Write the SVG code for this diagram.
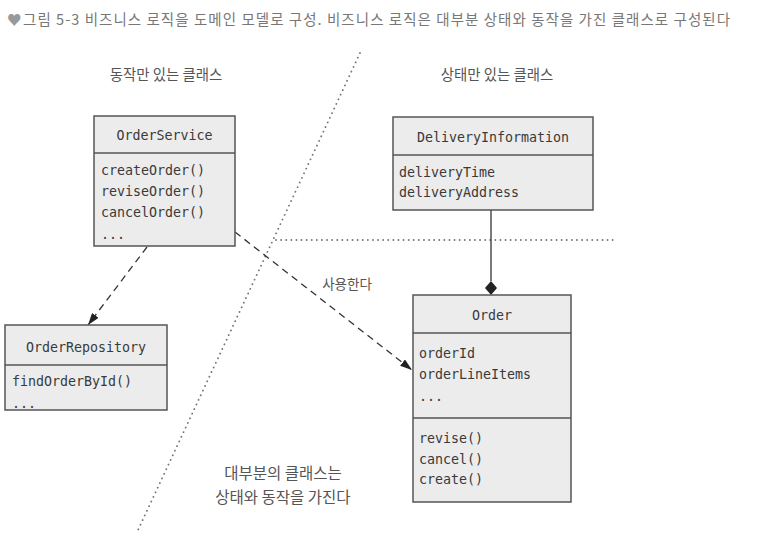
<svg xmlns="http://www.w3.org/2000/svg" width="784" height="551" viewBox="0 0 784 551">
<style>
.box{fill:#ececec;stroke:#555;stroke-width:1.5}
.div{stroke:#555;stroke-width:1.5}
.mono{font-family:"DejaVu Sans Mono","Liberation Mono",monospace;font-size:13.3px;fill:#3a3a3a}
.kr{font-family:"Noto Sans CJK KR","Noto Sans",sans-serif;font-size:14.4px;fill:#555}
.cap{font-family:"Noto Sans CJK KR","Noto Sans",sans-serif;font-size:14.5px;fill:#777}
.dot{stroke:#777;stroke-width:1.8;stroke-linecap:round;stroke-dasharray:0.1 5;fill:none}
.dash{stroke:#333;stroke-width:1.3;stroke-dasharray:7 5;fill:none}
</style>
<defs>
<marker id="arr" viewBox="0 0 12 8" refX="12" refY="4" markerWidth="12" markerHeight="8" markerUnits="userSpaceOnUse" orient="auto">
<path d="M0,0 L12,4 L0,8 Z" fill="#222"/>
</marker>
</defs>
<rect width="784" height="551" fill="#fff"/>
<text class="cap" x="7" y="25" fill="#999" style="fill:#999">♥</text>
<text class="cap" x="23" y="25" textLength="707" lengthAdjust="spacing">그림 5-3  비즈니스 로직을 도메인 모델로 구성. 비즈니스 로직은 대부분 상태와 동작을 가진 클래스로 구성된다</text>

<g id="labels">
<text class="kr" x="166" y="80" text-anchor="middle">동작만 있는 클래스</text>
<text class="kr" x="497" y="80" text-anchor="middle">상태만 있는 클래스</text>
<text class="kr" x="283" y="479" text-anchor="middle" style="font-size:15.5px">대부분의 클래스는</text>
<text class="kr" x="283" y="503" text-anchor="middle" style="font-size:15.5px">상태와 동작을 가진다</text>
</g>

<g id="connectors">
<line class="dot" x1="360" y1="53" x2="138" y2="530"/>
<line class="dot" x1="276" y1="240" x2="615" y2="240"/>
<line class="dash" x1="147" y1="247" x2="88" y2="325" marker-end="url(#arr)"/>
<line class="dash" x1="235" y1="232" x2="412" y2="370" marker-end="url(#arr)"/>
<line x1="491" y1="210" x2="491" y2="281" stroke="#333" stroke-width="1.3"/>
<path d="M491,281 L497,288 L491,295 L485,288 Z" fill="#222"/>
<text class="kr" x="347" y="289" text-anchor="middle" style="font-size:13.5px">사용한다</text>
</g>

<g id="OrderService">
<rect class="box" x="94" y="116" width="141" height="130"/>
<line class="div" x1="94" y1="153" x2="235" y2="153"/>
<text class="mono" x="164.5" y="140" text-anchor="middle">OrderService</text>
<text class="mono" x="101" y="175">createOrder()</text>
<text class="mono" x="101" y="196">reviseOrder()</text>
<text class="mono" x="101" y="217">cancelOrder()</text>
<text class="mono" x="101" y="239">...</text>
</g>

<g id="DeliveryInformation">
<rect class="box" x="393" y="117" width="200" height="93"/>
<line class="div" x1="393" y1="155" x2="593" y2="155"/>
<text class="mono" x="493" y="142" text-anchor="middle">DeliveryInformation</text>
<text class="mono" x="399" y="177">deliveryTime</text>
<text class="mono" x="399" y="197">deliveryAddress</text>
</g>

<g id="OrderRepository">
<rect class="box" x="5" y="325" width="162" height="85"/>
<line class="div" x1="5" y1="365" x2="167" y2="365"/>
<text class="mono" x="86" y="352" text-anchor="middle">OrderRepository</text>
<text class="mono" x="12" y="386">findOrderById()</text>
<text class="mono" x="12" y="408">...</text>
</g>

<g id="Order">
<rect class="box" x="413" y="295" width="158" height="207"/>
<line class="div" x1="413" y1="333" x2="571" y2="333"/>
<line class="div" x1="413" y1="418" x2="571" y2="418"/>
<text class="mono" x="492" y="320" text-anchor="middle">Order</text>
<text class="mono" x="419" y="358">orderId</text>
<text class="mono" x="419" y="379">orderLineItems</text>
<text class="mono" x="419" y="401">...</text>
<text class="mono" x="419" y="443">revise()</text>
<text class="mono" x="419" y="464">cancel()</text>
<text class="mono" x="419" y="484">create()</text>
</g>
</svg>
